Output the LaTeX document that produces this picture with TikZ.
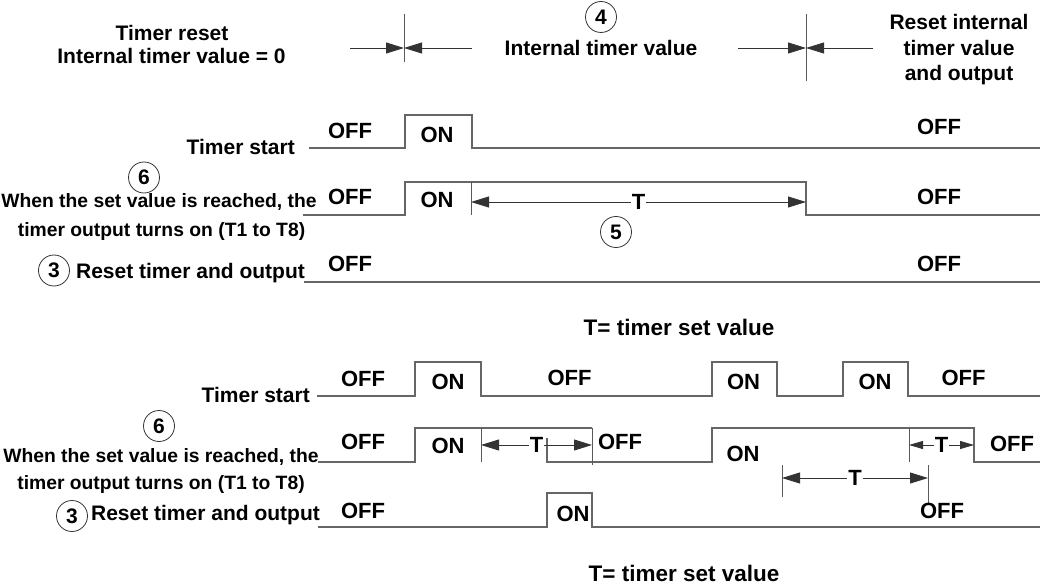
\documentclass[tikz,border=0pt]{standalone}
\usepackage{fontspec}
\setmainfont{Liberation Sans}
\usetikzlibrary{arrows.meta}
\begin{document}
\begin{tikzpicture}[x=1pt,y=-1pt,
  wave/.style={draw=black!60, line width=1.2pt},
  tick/.style={draw=black!65, line width=1pt},
  arr/.style={draw=black!80, line width=0.9pt, -{Triangle[length=18pt,width=11pt]}},
  dim/.style={draw=black!80, line width=0.9pt, {Triangle[length=18pt,width=11pt]}-{Triangle[length=18pt,width=11pt]}},
  sdim/.style={draw=black!80, line width=0.9pt, {Triangle[length=14pt,width=8pt]}-{Triangle[length=14pt,width=8pt]}},
  lbl/.style={font=\fontsize{21}{25}\selectfont\bfseries, inner sep=0pt, anchor=base},
  wlbl/.style={font=\fontsize{19.3}{23}\selectfont\bfseries, inner sep=0pt, anchor=base},
  st/.style={font=\fontsize{22}{26}\selectfont\bfseries, inner sep=0pt, anchor=base},
  tl/.style={fill=white, inner sep=1pt, font=\fontsize{22}{26}\selectfont\bfseries},
  num/.style={circle, draw=black!80, line width=0.8pt, minimum size=31pt, inner sep=0pt, font=\fontsize{21}{25}\selectfont\bfseries},
  ttl/.style={font=\fontsize{22.5}{27}\selectfont\bfseries, inner sep=0pt, anchor=base}
]
\useasboundingbox (0,0) rectangle (1040,585);

%================ TOP DIAGRAM =================
\node[lbl] (tr1) at (172,40.5) {Timer reset};
\node[lbl] (tr2) at (171.5,63.5) {Internal timer value = 0};
\node[num] (n4) at (601,17) {4};
\node[lbl] (itv) at (601,55.5) {Internal timer value};
\node[lbl] (ri1) at (959,29.5) {Reset internal};
\node[lbl] (ri2) at (959,55.5) {timer value};
\node[lbl] (ri3) at (959,80.5) {and output};

% reset marker
\coordinate (m1t) at (404,14); \coordinate (m1b) at (404,62);
\coordinate (m1l) at (350,48); \coordinate (m1c) at (404,48); \coordinate (m1r) at (472,48);
\draw[tick] (m1t) -- (m1b);
\draw[arr] (m1l) -- (m1c);
\draw[arr] (m1r) -- (m1c);
% reset internal marker
\coordinate (m2t) at (806,14); \coordinate (m2b) at (806,81);
\coordinate (m2l) at (738,48); \coordinate (m2c) at (806,48); \coordinate (m2r) at (873,48);
\draw[tick] (m2t) -- (m2b);
\draw[arr] (m2l) -- (m2c);
\draw[arr] (m2r) -- (m2c);

% row 1 timer start
\node[lbl, anchor=base east] (ts1) at (295,154.5) {Timer start};
\draw[wave] (309,148) -- (405,148) -- (405,115) -- (472,115) -- (472,148) -- (1040,148);
\node[st] (a1) at (350,139) {OFF};
\node[st] (a2) at (437,142.4) {ON};
\node[st] (a3) at (939,135) {OFF};

% row 2 output
\node[num] (n6a) at (144,177.5) {6};
\node[wlbl] (w1a) at (159,207.4) {When the set value is reached, the};
\node[wlbl] (w2a) at (161.5,236.8) {timer output turns on (T1 to T8)};
\draw[wave] (303,215) -- (405,215) -- (405,182) -- (806,182) -- (806,215) -- (1040,215);
\draw[tick] (471,182) -- (471,215);
\coordinate (d1l) at (471,202); \coordinate (d1r) at (806,202);
\draw[dim] (d1l) -- (d1r) node[tl, midway] (t1) {T};
\node[st] (b1) at (350,205) {OFF};
\node[st] (b2) at (437,208) {ON};
\node[st] (b3) at (939,205) {OFF};
\node[num] (n5) at (616,232) {5};

% row 3 reset
\node[num] (n3a) at (54,270.5) {3};
\node[lbl] (rt1) at (190.5,278.3) {Reset timer and output};
\draw[wave] (304,282) -- (1040,282);
\node[st] (c1) at (350,271.7) {OFF};
\node[st] (c2) at (939,271.7) {OFF};

\node[ttl] (tsv1) at (679,335) {T= timer set value};

%================ BOTTOM DIAGRAM =================
% row 1 timer start
\node[lbl, anchor=base east] (ts2) at (310,402.5) {Timer start};
\draw[wave] (317,396) -- (415,396) -- (415,362) -- (481,362) -- (481,396) -- (712,396) -- (712,362) -- (777,362) -- (777,396) -- (843,396) -- (843,362) -- (908,362) -- (908,396) -- (1040,396);
\node[st] (e1) at (363,386) {OFF};
\node[st] (e2) at (448,389.5) {ON};
\node[st] (e3) at (569.5,385) {OFF};
\node[st] (e4) at (743.5,389.5) {ON};
\node[st] (e5) at (875,389.5) {ON};
\node[st] (e6) at (963.5,385.5) {OFF};

% row 2 output
\node[num] (n6b) at (159,426) {6};
\node[wlbl] (w1b) at (161,462) {When the set value is reached, the};
\node[wlbl] (w2b) at (161,489.4) {timer output turns on (T1 to T8)};
\draw[wave] (318,462) -- (415,462) -- (415,428) -- (592,428);
\draw[wave] (547,438) -- (547,462) -- (712,462) -- (712,428) -- (974,428) -- (974,462) -- (1040,462);
\draw[tick] (481,428) -- (481,462);
\draw[tick] (592,428) -- (592,465);
\draw[tick] (909,428) -- (909,462);
\coordinate (d2l) at (481,445); \coordinate (d2r) at (592,445);
\draw[dim] (d2l) -- (d2r) node[tl, midway] (t2) {T};
\coordinate (d3l) at (909,445); \coordinate (d3r) at (974,445);
\draw[sdim] (d3l) -- (d3r) node[tl, midway] (t3) {T};
\draw[tick] (782,465) -- (782,497);
\draw[tick] (928,465) -- (928,503);
\coordinate (d4l) at (782,478); \coordinate (d4r) at (928,478);
\draw[dim] (d4l) -- (d4r) node[tl, midway] (t4) {T};
\node[st] (f1) at (363,449) {OFF};
\node[st] (f2) at (448,453) {ON};
\node[st] (f3) at (620,449) {OFF};
\node[st] (f4) at (743,461) {ON};
\node[st] (f5) at (1012,451) {OFF};

% row 3 reset
\node[num] (n3b) at (72,516) {3};
\node[lbl] (rt2) at (205.5,520.5) {Reset timer and output};
\draw[wave] (318,527) -- (547,527) -- (547,493) -- (592,493) -- (592,527) -- (1040,527);
\node[st] (g1) at (363,518) {OFF};
\node[st] (g2) at (573,521) {ON};
\node[st] (g3) at (942,518) {OFF};

\node[ttl] (tsv2) at (684,581) {T= timer set value};
\end{tikzpicture}
\end{document}
